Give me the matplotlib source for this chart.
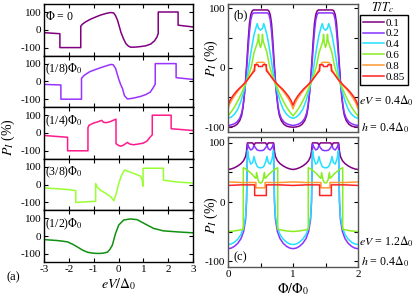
import numpy as np
import matplotlib
matplotlib.use('Agg')
import matplotlib.pyplot as plt
from matplotlib.lines import Line2D

plt.rcParams['font.family'] = 'serif'
plt.rcParams['font.serif'] = ['Liberation Serif', 'DejaVu Serif']
plt.rcParams['mathtext.fontset'] = 'stix'
plt.rcParams['axes.unicode_minus'] = False

# ---- panel (a): P_I vs eV/Delta0 for five fluxes ----
a_labels = [r'$\Phi$ = 0', r'(1/8)$\Phi_0$', r'(1/4)$\Phi_0$', r'(3/8)$\Phi_0$', r'(1/2)$\Phi_0$']
a_colors = ['#800080', '#9933ff', '#ff1a8c', '#99ff33', '#109010']

ev_0 = [-3.0, -2.36, -2.36, -1.52, -1.52, -1.45, -1.32, -1.12, -0.9, -0.72, -0.5, -0.32,
        -0.2, -0.12, -0.04, 0.04, 0.1, 0.2, 0.3, 0.4, 0.5, 0.7, 0.9, 1.1, 1.3, 1.45,
        1.55, 1.6, 1.6, 2.4, 2.4, 3.0]
p_0 = [-16, -22, -100, -100, 20, 32, 45, 60, 73, 83, 92, 97,
       95, 80, 54, 15, -15, -50, -78, -92, -98, -97, -94, -90, -80, -62,
       -40, -20, 100, 100, 26, 16]

ev_18 = [-3.0, -2.32, -2.32, -1.49, -1.49, -1.4, -1.32, -1.15, -0.92, -0.7, -0.5, -0.32,
         -0.22, -0.12, 0.0, 0.08, 0.16, 0.24, 0.36, 0.6, 0.9, 1.1, 1.28, 1.4, 1.48,
         1.48, 2.32, 2.32, 3.0]
p_18 = [-17, -20, -100, -100, 17, 32, 40, 55, 67, 78, 87, 95,
        94, 74, 17, -15, -40, -80, -99, -94, -84, -74, -60, -35, -15,
        100, 100, 21, 11]

ev_14 = [-3.0, -2.05, -2.05, -1.23, -1.23, -1.19, -1.0, -0.85, -0.68, -0.6, -0.5, -0.35,
         -0.2, -0.1, -0.1, 0.0, 0.1, 0.2, 0.36, 0.45, 0.6, 0.8, 1.0, 1.15, 1.28,
         1.36, 1.36, 2.12, 2.12, 3.0]
p_14 = [-14, -24, -100, -100, 30, 43, 56, 62, 71, 60, 58, 63,
        72, 78, -60, -70, -74, -68, -53, -62, -66, -62, -57, -45, -22,
        -10, 100, 100, 24, 14]

ev_38 = [-3.0, -2.5, -2.0, -1.72, -1.72, -0.92, -0.92, -0.85, -0.72, -0.5, -0.3, -0.19,
         -0.1, 0.0, 0.1, 0.24, 0.4, 0.61, 0.88, 0.95, 0.99, 0.99, 1.81, 1.81, 2.4, 3.0]
p_38 = [-19, -23, -28, -34, -100, -94, 6, -15, -32, -50, -70, -91,
        -55, 0, 45, 82, 74, 63, 48, 30, -9, 92, 92, 25, 14, 9]

ev_12 = [-3.0, -2.5, -2.3, -2.05, -1.85, -1.65, -1.45, -1.25, -1.05, -0.85, -0.65, -0.45,
         -0.35, -0.25, -0.12, 0.01, 0.21, 0.48, 0.75, 1.15, 1.41, 1.81, 2.4, 3.0]
p_12 = [-19, -24, -27, -32, -45, -61, -78, -90, -95, -97, -96, -90,
        -75, -51, 15, 63, 91, 97, 93, 63, 44, 30, 24, 19]

a_ev = [ev_0, ev_18, ev_14, ev_38, ev_12]
a_p = [p_0, p_18, p_14, p_38, p_12]

# ---- panels (b),(c): P_I vs Phi/Phi0, half period 0..0.5 (curves symmetric about 0.5) ----
T_labels = ['0.1', '0.2', '0.4', '0.6', '0.8', '0.85']
T_colors = ['#800080', '#8833ff', '#22e0ff', '#88ee22', '#ff9933', '#ff2222']

b_phi = [
    [0, 0.05, 0.1, 0.14, 0.18, 0.21, 0.23, 0.25, 0.27, 0.29, 0.31, 0.33, 0.35, 0.37, 0.39, 0.42, 0.5],
    [0, 0.05, 0.1, 0.14, 0.18, 0.21, 0.23, 0.25, 0.27, 0.29, 0.31, 0.33, 0.35, 0.37, 0.39, 0.42, 0.5],
    [0, 0.05, 0.1, 0.15, 0.2, 0.25, 0.28, 0.31, 0.34, 0.37, 0.40, 0.43, 0.45, 0.47, 0.5],
    [0, 0.05, 0.1, 0.15, 0.2, 0.25, 0.28, 0.32, 0.36, 0.40, 0.43, 0.46, 0.47, 0.48, 0.5],
    [0, 0.03, 0.07, 0.12, 0.17, 0.22, 0.28, 0.33, 0.37, 0.40, 0.42, 0.44, 0.46, 0.5],
    [0, 0.03, 0.07, 0.12, 0.17, 0.22, 0.28, 0.33, 0.37, 0.41, 0.41, 0.46, 0.47, 0.5],
]
b_p = [
    [-100, -99.5, -98, -95, -89, -80, -68, -48, -22, 10, 45, 74, 89, 95, 97, 97, 97],
    [-97, -96, -94, -91, -85, -76, -64, -47, -25, 2, 32, 60, 80, 89, 92, 92, 92],
    [-85, -83, -78, -70, -56, -37, -24, -5, 17, 37, 55, 67, 74, 66, 63],
    [-81, -74, -66, -56, -45, -32, -24, -12, 2, 25, 35, 45, 56, 42, 34],
    [-69, -60, -52, -44, -37, -31, -24, -16, -9, -3, 3, 8, 9, 9],
    [-63, -55, -48, -41, -35, -30, -23, -16, -10, -5, 5, 5, 2, 2],
]

c_phi = [
    [0, 0.05, 0.1, 0.15, 0.2, 0.24, 0.27, 0.285, 0.295, 0.30, 0.38, 0.40, 0.42, 0.5],
    [0, 0.05, 0.1, 0.15, 0.2, 0.24, 0.27, 0.285, 0.295, 0.30, 0.32, 0.35, 0.38, 0.40, 0.42, 0.45, 0.48, 0.5],
    [0, 0.05, 0.1, 0.15, 0.2, 0.24, 0.27, 0.285, 0.295, 0.30, 0.32, 0.35, 0.38, 0.40, 0.42, 0.45, 0.48, 0.5],
    [0, 0.1, 0.2, 0.235, 0.235, 0.27, 0.32, 0.37, 0.41, 0.43, 0.44, 0.46, 0.48, 0.5],
    [0, 0.2, 0.43, 0.43, 0.5],
    [0, 0.2, 0.41, 0.41, 0.5],
]
c_p = [
    [55, 56, 58, 61, 65, 70, 77, 86, 98, 100, 100, 96, 100, 100],
    [-79, -78, -75, -70, -62, -50, -30, 0, 60, 98, 93, 88, 90, 96, 92, 88, 87, 87],
    [-72, -71, -68, -63, -55, -43, -25, 5, 60, 87, 74, 64, 67, 77, 68, 60, 58, 58],
    [-50, -49, -47, -46, 58, 56, 52, 47, 42, 40, 50, 38, 33, 32],
    [34, 33, 33, 24, 24],
    [28, 29, 29, 11, 11],
]


def two_periods(phi_half, p_half):
    ph = np.asarray(phi_half, float)
    pv = np.asarray(p_half, float)
    ph1 = np.concatenate([ph, 1 - ph[::-1]])
    pv1 = np.concatenate([pv, pv[::-1]])
    return np.concatenate([ph1, ph1 + 1]), np.concatenate([pv1, pv1])


def style(ax, color='k'):
    ax.tick_params(direction='in', top=True, right=True, length=3, width=0.8,
                   labelsize=8, pad=2)
    ax.tick_params(which='minor', direction='in', top=True, right=True, length=3, width=0.8)
    for s in ax.spines.values():
        s.set_color(color)
        s.set_linewidth(1.0)


fig = plt.figure(figsize=(4.15, 3.05), dpi=100)

h_a = 51.6 / 305
for i in range(5):
    ax = fig.add_axes([44 / 415, 1 - 262 / 305 + (4 - i) * h_a, 149 / 415, h_a])
    ax.plot(a_ev[i], a_p[i], color=a_colors[i], lw=1.1)
    ax.set_xlim(-3, 3)
    ax.set_ylim(-145, 145)
    ax.set_xticks([-3, -2, -1, 0, 1, 2, 3])
    ax.set_yticks([-100, 0, 100])
    style(ax)
    if i < 4:
        ax.set_xticklabels([])
    else:
        ax.set_xlabel(r'$eV/\Delta_0$', fontsize=10, labelpad=2)
    ax.text(0.01, 0.88, a_labels[i], transform=ax.transAxes, fontsize=8.5, va='top', ha='left')

fig.text(8 / 415, 1 - 137 / 305, r'$P_I$ (%)', rotation=90, fontsize=10, ha='center', va='center')
fig.text(13 / 415, 1 - 277 / 305, '(a)', fontsize=9, ha='center', va='center')

ax_b = fig.add_axes([228 / 415, 1 - 132 / 305, 130 / 415, 128 / 305])
ax_c = fig.add_axes([228 / 415, 1 - 267 / 305, 130 / 415, 130 / 305])

for k in range(6):
    x, y = two_periods(b_phi[k], b_p[k])
    ax_b.plot(x, y, color=T_colors[k], lw=1.1)
    x, y = two_periods(c_phi[k], c_p[k])
    ax_c.plot(x, y, color=T_colors[k], lw=1.1)

ax_b.set_ylim(-108, 107)
ax_c.set_ylim(-110, 110)
for ax in (ax_b, ax_c):
    ax.set_xlim(0, 2)
    ax.set_xticks([0, 1, 2])
    ax.set_xticks([0.5, 1.5], minor=True)
    ax.set_yticks([-100, 0, 100])
    ax.set_yticks([-50, 50], minor=True)
    style(ax, '#555555')
ax_b.set_xticklabels([])
ax_c.set_xlabel(r'$\Phi/\Phi_0$', fontsize=10, labelpad=2)

ax_b.text(-0.13, 0.58, r'$P_I$ (%)', transform=ax_b.transAxes, rotation=90, fontsize=10,
          ha='center', va='center')
ax_c.text(-0.13, 0.40, r'$P_I$ (%)', transform=ax_c.transAxes, rotation=90, fontsize=10,
          ha='center', va='center')
ax_b.text(0.04, 0.96, '(b)', transform=ax_b.transAxes, fontsize=9, va='top')
ax_c.text(0.04, 0.03, '(c)', transform=ax_c.transAxes, fontsize=9, va='bottom')

handles = [Line2D([], [], color=c, lw=1.1) for c in T_colors]
fig.legend(handles, T_labels, loc='upper left', bbox_to_anchor=(360 / 415, 1 - 15 / 305),
           fontsize=8, frameon=True, fancybox=False, edgecolor='k', framealpha=1,
           handlelength=1.9, handletextpad=0.2, borderpad=0.25, labelspacing=0.1,
           borderaxespad=0)
fig.text(383 / 415, 1 - 8 / 305, r'$T/T_c$', fontsize=9, ha='center', va='center')

fig.text(359 / 415, 1 - 101 / 305, r'$eV$ = 0.4$\Delta_0$', fontsize=8.6, va='center')
fig.text(361 / 415, 1 - 128 / 305, r'$h$ = 0.4$\Delta_0$', fontsize=8.6, va='center')
fig.text(359 / 415, 1 - 242 / 305, r'$eV$ = 1.2$\Delta_0$', fontsize=8.6, va='center')
fig.text(361 / 415, 1 - 262 / 305, r'$h$ = 0.4$\Delta_0$', fontsize=8.6, va='center')

fig.savefig('out.png', dpi=100)
